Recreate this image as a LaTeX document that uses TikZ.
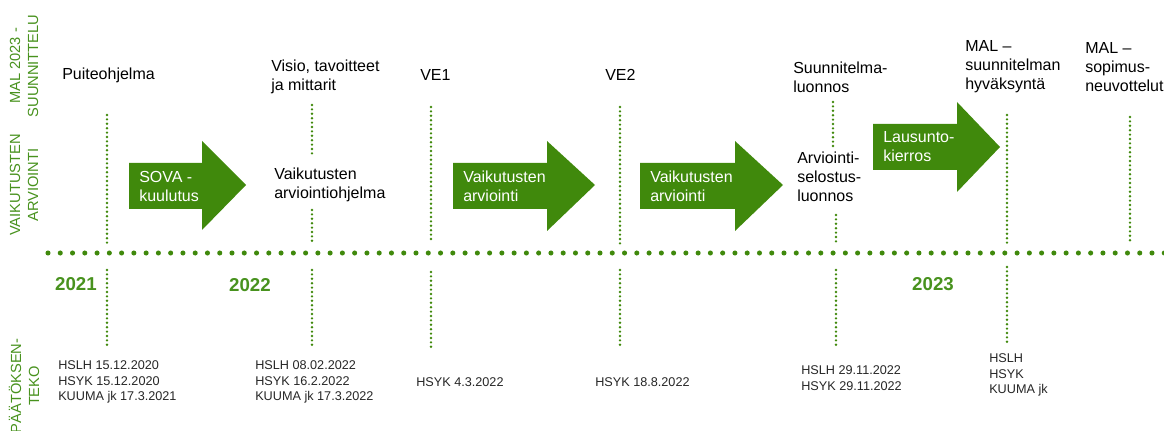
\documentclass[tikz,border=0pt]{standalone}
\usepackage{fontspec}
\setmainfont{Liberation Sans}
\definecolor{grn}{RGB}{64,137,12}
\definecolor{grntxt}{RGB}{72,146,30}
\begin{document}
\begin{tikzpicture}[x=0.75pt,y=-0.75pt,
  lbl/.style={anchor=west,inner sep=0pt,align=left,font=\fontsize{12}{14.25}\selectfont,text=black},
  date/.style={anchor=west,inner sep=0pt,align=left,font=\fontsize{9.5}{11.6}\selectfont,text=black!85},
  arrtxt/.style={anchor=west,inner sep=0pt,align=left,font=\fontsize{12}{14.25}\selectfont,text=white},
  year/.style={inner sep=0pt,font=\fontsize{14}{16}\selectfont\bfseries,text=grntxt},
  side/.style={inner sep=0pt,rotate=90,align=center,font=\fontsize{11}{13.5}\selectfont,text=grntxt},
  vdot/.style={draw=grn,line width=2pt,line cap=round,dash pattern=on 0pt off 3.3pt},
  hdot/.style={draw=grn,line width=3.8pt,line cap=round,dash pattern=on 0pt off 9.2pt},
  arrshape/.style={fill=grn}]
\useasboundingbox (0,0) rectangle (1164,431);
\clip (0,0) rectangle (1164,431);

% side labels
\node[side] (s1) at (24,66) {MAL 2023 -\\SUUNNITTELU};
\node[side] (s2) at (24,185) {VAIKUTUSTEN\\ARVIOINTI};
\node[side] (s3) at (24,386) {PÄÄTÖKSEN-\\TEKO};

% main timeline
\coordinate (tl0) at (48,253);
\coordinate (tl1) at (1170,253);
\draw[hdot] (tl0) -- (tl1);

% arrows
\fill[arrshape] (129,163) -- (202,163) -- (202,141) -- (246,185) -- (202,230) -- (202,209) -- (129,209) -- cycle;
\fill[arrshape] (453,163) -- (547,163) -- (547,141) -- (595,185) -- (547,231) -- (547,209) -- (453,209) -- cycle;
\fill[arrshape] (640,163) -- (735,163) -- (735,141) -- (783,185) -- (735,231) -- (735,209) -- (640,209) -- cycle;
\fill[arrshape] (873,124) -- (957,124) -- (957,102) -- (1000,147) -- (957,192) -- (957,170) -- (873,170) -- cycle;
\node[arrtxt] (a1) at (139,186) {SOVA -\\kuulutus};
\node[arrtxt] (a2) at (463,186) {Vaikutusten\\arviointi};
\node[arrtxt] (a3) at (650,186) {Vaikutusten\\arviointi};
\node[arrtxt] (a4) at (883,147) {Lausunto-\\kierros};

% top labels
\node[lbl] (t1) at (62,75) {Puiteohjelma};
\node[lbl] (t2) at (271,77) {Visio, tavoitteet\\ja mittarit};
\node[lbl] (t3) at (420,75) {VE1};
\node[lbl] (t4) at (605,75) {VE2};
\node[lbl] (t5) at (793,77) {Suunnitelma-\\luonnos};
\node[lbl] (t6) at (965,67) {MAL –\\suunnitelman\\hyväksyntä};
\node[lbl] (t7) at (1085,67) {MAL –\\sopimus-\\neuvottelut};
\node[lbl] (m2) at (274,185) {Vaikutusten\\arviointiohjelma};
\node[lbl] (m5) at (797,177) {Arviointi-\\selostus-\\luonnos};

% years
\node[year] (y1) at (76,284) {2021};
\node[year] (y2) at (250,285) {2022};
\node[year] (y3) at (933,284) {2023};

% dates
\node[date] (d1) at (58,382) {HSLH 15.12.2020\\HSYK 15.12.2020\\KUUMA jk 17.3.2021};
\node[date] (d2) at (255,382) {HSLH 08.02.2022\\HSYK 16.2.2022\\KUUMA jk 17.3.2022};
\node[date] (d3) at (416,382) {HSYK 4.3.2022};
\node[date] (d4) at (595,382) {HSYK 18.8.2022};
\node[date] (d5) at (801,378) {HSLH 29.11.2022\\HSYK 29.11.2022};
\node[date] (d6) at (989,375) {HSLH\\HSYK\\KUUMA jk};

% vertical dotted connectors
\coordinate (v1a) at (107,115); \coordinate (v1b) at (107,245);
\coordinate (v1c) at (107,270); \coordinate (v1d) at (107,347);
\coordinate (v2a) at (312,105); \coordinate (v2b) at (312,156);
\coordinate (v2c) at (312,210); \coordinate (v2d) at (312,244);
\coordinate (v2e) at (312,270); \coordinate (v2f) at (312,347);
\coordinate (v3a) at (431,107); \coordinate (v3b) at (431,243);
\coordinate (v3c) at (431,272); \coordinate (v3d) at (431,347);
\coordinate (v4a) at (620,107); \coordinate (v4b) at (620,244);
\coordinate (v4c) at (620,270); \coordinate (v4d) at (620,346);
\coordinate (v5a) at (833,102); \coordinate (v5b) at (833,147);
\coordinate (v5c) at (836,215); \coordinate (v5d) at (836,242);
\coordinate (v5e) at (836,270); \coordinate (v5f) at (836,347);
\coordinate (v6a) at (1007,115); \coordinate (v6b) at (1007,243);
\coordinate (v6c) at (1007,267); \coordinate (v6d) at (1007,342);
\coordinate (v7a) at (1130,117); \coordinate (v7b) at (1130,241);
\draw[vdot] (v1a) -- (v1b);
\draw[vdot] (v1c) -- (v1d);
\draw[vdot] (v2a) -- (v2b);
\draw[vdot] (v2c) -- (v2d);
\draw[vdot] (v2e) -- (v2f);
\draw[vdot] (v3a) -- (v3b);
\draw[vdot] (v3c) -- (v3d);
\draw[vdot] (v4a) -- (v4b);
\draw[vdot] (v4c) -- (v4d);
\draw[vdot] (v5a) -- (v5b);
\draw[vdot] (v5c) -- (v5d);
\draw[vdot] (v5e) -- (v5f);
\draw[vdot] (v6a) -- (v6b);
\draw[vdot] (v6c) -- (v6d);
\draw[vdot] (v7a) -- (v7b);
\end{tikzpicture}
\end{document}
